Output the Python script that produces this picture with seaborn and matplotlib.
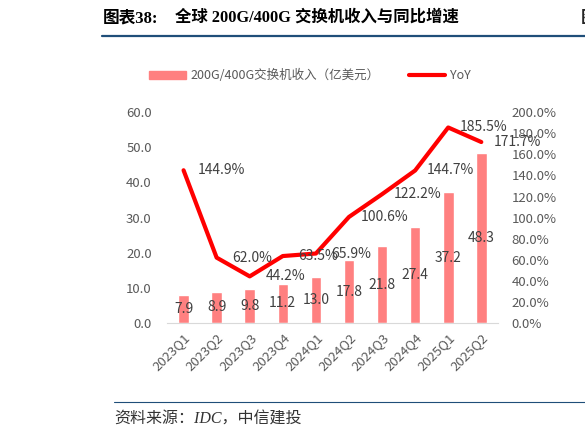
import matplotlib
matplotlib.use("Agg")
import matplotlib.pyplot as plt
from matplotlib.lines import Line2D
from matplotlib.patches import Patch
import seaborn as sns
import pandas as pd

# -----------------------------
# DATA
# -----------------------------
quarters = ["2023Q1", "2023Q2", "2023Q3", "2023Q4", "2024Q1",
            "2024Q2", "2024Q3", "2024Q4", "2025Q1", "2025Q2"]
revenue = [7.9, 8.9, 9.8, 11.2, 13.0, 17.8, 21.8, 27.4, 37.2, 48.3]
yoy = [144.9, 62.0, 44.2, 63.5, 65.9, 100.6, 122.2, 144.7, 185.5, 171.7]

left_ticks = [0, 10, 20, 30, 40, 50, 60]
right_ticks = [0, 20, 40, 60, 80, 100, 120, 140, 160, 180, 200]

df = pd.DataFrame({"quarter": quarters, "revenue": revenue, "yoy": yoy})

# -----------------------------
# STYLE
# -----------------------------
sns.set_style("white")
plt.rcParams["font.family"] = ["Noto Sans CJK SC", "DejaVu Sans"]
serif_cjk = ["Liberation Serif", "Noto Sans CJK SC"]
grey = "#595959"
bar_color = "#FF8080"
line_color = "#FF0000"

fig = plt.figure(figsize=(5.85, 4.4), dpi=100)
ax = fig.add_axes([0.2855, 0.266, 0.5655, 0.479])

sns.barplot(data=df, x="quarter", y="revenue", color=bar_color,
            width=0.32, saturation=1, ax=ax)
ax.set_xlim(-0.5, len(quarters) - 0.5)
ax.set_ylim(0, 60)
ax.set_yticks(left_ticks)
ax.set_yticklabels([f"{t:.1f}" for t in left_ticks], color=grey, fontsize=9.5)
ax.set_xticks(range(len(quarters)))
ax.set_xticklabels(quarters, rotation=45, ha="right", va="top",
                   rotation_mode="anchor", color=grey, fontsize=9.5)
ax.set_xlabel("")
ax.set_ylabel("")
ax.tick_params(axis="y", length=0, pad=11)
ax.tick_params(axis="x", length=0, pad=6)
for s in ["top", "right", "left"]:
    ax.spines[s].set_visible(False)
ax.spines["bottom"].set_color("#D9D9D9")

# bar labels, centred in the bar
for i, v in enumerate(revenue):
    ax.text(i, v / 2, f"{v:.1f}", ha="center", va="center",
            fontsize=10, color="#404040")

ax2 = ax.twinx()
sns.lineplot(data=df, x="quarter", y="yoy", color=line_color, lw=3,
             sort=False, ax=ax2)
ax2.set_ylim(0, 200)
ax2.set_yticks(right_ticks)
ax2.set_yticklabels([f"{t:.1f}%" for t in right_ticks], color=grey, fontsize=9.5)
ax2.set_ylabel("")
ax2.tick_params(axis="y", length=0, pad=10)
for s in ["top", "right", "left", "bottom"]:
    ax2.spines[s].set_visible(False)

# line labels (offset one category to the right, like the original)
for i, v in enumerate(yoy):
    dx = 1.15 if i == 0 else 1.08
    ax2.text(i + dx, v, f"{v:.1f}%", ha="center", va="center",
             fontsize=10, color="#404040")

# legend
handles = [Patch(color=bar_color, label="200G/400G交换机收入（亿美元）"),
           Line2D([0], [0], color=line_color, lw=3, label="YoY")]
leg = fig.legend(handles=handles, loc="center", bbox_to_anchor=(0.53, 0.828),
                 ncol=2, frameon=False, fontsize=9, handlelength=2.9,
                 columnspacing=2.3, handletextpad=0.4)
for t in leg.get_texts():
    t.set_color(grey)

# title + rules
fig.text(103 / 585, 1 - 18 / 440, "图表38:", ha="left", va="center",
         fontsize=12, fontweight="bold", color="#000000", family=serif_cjk)
fig.text(175 / 585, 1 - 18 / 440, "全球 200G/400G 交换机收入与同比增速",
         ha="left", va="center", fontsize=11.8, fontweight="bold",
         color="#000000", family=serif_cjk)
fig.add_artist(Line2D([102 / 585, 1.0], [1 - 36 / 440] * 2, color="#1F4E79", lw=1.6))
fig.text(581 / 585, 1 - 18 / 440, "图", ha="left", va="center",
         fontsize=12, fontweight="bold", clip_on=False)

fig.add_artist(Line2D([114 / 585, 1.0], [1 - 402 / 440] * 2, color="#1F4E79", lw=0.8))
fig.text(114 / 585, 1 - 420 / 440, "资料来源：IDC，中信建投", ha="left", va="center",
         fontsize=11.5, style="italic", color="#333333", family=serif_cjk)

fig.savefig("out.png", dpi=100)
